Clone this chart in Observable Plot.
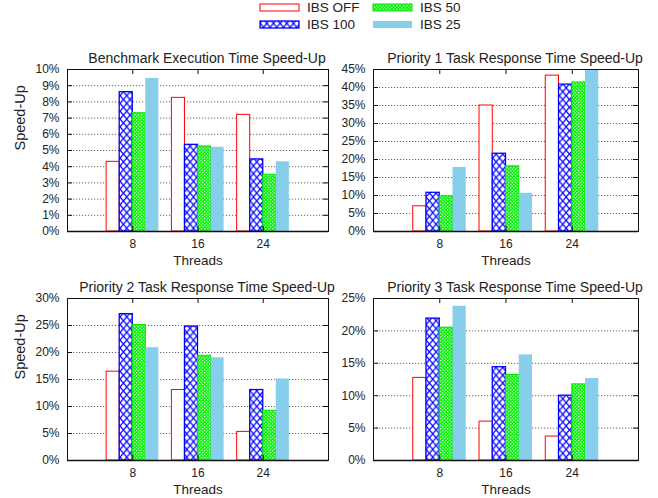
<!DOCTYPE html>
<html><head><meta charset="utf-8">
<script src="https://cdn.jsdelivr.net/npm/d3@7"></script>
<script src="https://cdn.jsdelivr.net/npm/@observablehq/plot@0.6"></script>
<style>
body{margin:0;background:#fff;}
#chart{position:relative;width:658px;height:498px;font-family:"Liberation Sans",Arial,sans-serif;color:#222;overflow:hidden;}
#chart svg{position:absolute;overflow:visible;}
</style></head><body><div id="chart"></div>
<script>
// ---- data ----
const threads = ["8", "16", "24"];
const seriesNames = ["IBS OFF", "IBS 100", "IBS 50", "IBS 25"];
const titles = [
  "Benchmark Execution Time Speed-Up",
  "Priority 1 Task Response Time Speed-Up",
  "Priority 2 Task Response Time Speed-Up",
  "Priority 3 Task Response Time Speed-Up"
];
const yMax = [10, 45, 30, 25];
const yStep = [1, 5, 5, 5];
// rows: threads 8, 16, 24 ; columns: IBS OFF, IBS 100, IBS 50, IBS 25
const benchmarkExec = [[4.3, 8.6, 7.3, 9.45], [8.25, 5.35, 5.25, 5.2], [7.2, 4.45, 3.5, 4.3]];
const priority1 = [[7.0, 10.75, 9.75, 17.8], [35.0, 21.6, 18.1, 10.6], [43.3, 40.8, 41.4, 45.0]];
const priority2 = [[16.45, 27.1, 25.1, 20.9], [13.05, 24.8, 19.4, 19.0], [5.3, 13.05, 9.2, 15.1]];
const priority3 = [[12.75, 21.9, 20.5, 23.8], [6.0, 14.4, 13.2, 16.3], [3.7, 10.0, 11.75, 12.65]];
const panelValues = [benchmarkExec, priority1, priority2, priority3];

// ---- styles ----
const FONT = '"Liberation Sans", Arial, sans-serif';
const fills = ["white", "url(#hatchBlue)", "url(#checkGreen)", "#87ceeb"];
const strokes = ["#ff0000", "#0000ff", "#00e600", "#87ceeb"];
const strokeWidths = [1, 1.3, 1, 0];
const frames = [
  {left: 67, top: 69, w: 261, ylabel: true},
  {left: 373, top: 69, w: 265, ylabel: false},
  {left: 67, top: 298, w: 261, ylabel: true},
  {left: 373, top: 298, w: 265, ylabel: false}
];
const FH = 162, ML = 67, MT = 28, MB = 40, MR = 20;

const chart = document.getElementById("chart");

// pattern defs
const PW = 6.67, PH = 7.8;
const defs = d3.select(chart).append("svg").attr("width", 0).attr("height", 0).style("left", "0px").style("top", "0px").append("defs");
const pb = defs.append("pattern").attr("id", "hatchBlue").attr("patternUnits", "userSpaceOnUse").attr("width", PW).attr("height", PH);
pb.append("rect").attr("width", PW).attr("height", PH).attr("fill", "white");
pb.append("path").attr("d", `M0,0L${PW},${PH}M${PW},0L0,${PH}`).attr("stroke", "#0000ff").attr("stroke-width", 1.2);
const pg = defs.append("pattern").attr("id", "checkGreen").attr("patternUnits", "userSpaceOnUse").attr("width", 3.4).attr("height", 3.4);
pg.append("rect").attr("width", 3.4).attr("height", 3.4).attr("fill", "#00ee00");
pg.append("rect").attr("x", 0).attr("y", 0).attr("width", 1.2).attr("height", 1.2).attr("fill", "white");
pg.append("rect").attr("x", 1.7).attr("y", 1.7).attr("width", 1.2).attr("height", 1.2).attr("fill", "white");

// ---- legend ----
const legendPos = [
  {i: 0, x: 260, y: 4}, {i: 2, x: 373, y: 4},
  {i: 1, x: 260, y: 21}, {i: 3, x: 373, y: 21}
];
const leg = d3.select(chart).append("svg").attr("width", 658).attr("height", 40).style("left", "0px").style("top", "0px");
for (const p of legendPos) {
  leg.append("rect").attr("x", p.x).attr("y", p.y).attr("width", 39).attr("height", 7)
    .attr("fill", fills[p.i]).attr("stroke", strokeWidths[p.i] ? strokes[p.i] : "none").attr("stroke-width", strokeWidths[p.i]);
  leg.append("text").attr("x", p.x + 47).attr("y", p.y + 3.5).attr("dominant-baseline", "central")
    .attr("font-family", FONT).attr("font-size", 13.5).attr("fill", "#222").text(seriesNames[p.i]);
}

// ---- panels ----
frames.forEach((f, p) => {
  const vals = panelValues[p];
  const data = [];
  vals.forEach((row, ci) => row.forEach((v, si) => data.push({ci, si, v, t: threads[ci], s: seriesNames[si]})));
  const ticks = d3.range(0, yMax[p] + yStep[p] / 2, yStep[p]);
  const grid = ticks.filter(t => t > 0 && t < yMax[p]);
  const barMarks = seriesNames.map((s, si) => Plot.rectY(data.filter(d => d.si === si), {
    x1: d => d.ci - 0.4 + 0.2 * d.si,
    x2: d => d.ci - 0.2 + 0.2 * d.si,
    y1: 0, y2: "v",
    fill: fills[si],
    stroke: strokeWidths[si] ? strokes[si] : "none",
    strokeWidth: strokeWidths[si] || 0,
    inset: 0,
    clip: true
  }));
  const marks = [
    Plot.ruleY(grid, {stroke: "#666", strokeDasharray: "1.2,1.8", strokeWidth: 1}),
    ...barMarks,
    Plot.frame({stroke: "#111", strokeWidth: 1}),
    Plot.ruleY([0], {stroke: "#111", strokeWidth: 1.6}),
    Plot.ruleY(ticks, {stroke: "#111", insetRight: f.w - 5}),
    Plot.ruleY(ticks, {stroke: "#111", insetLeft: f.w - 5}),
    Plot.ruleX([0, 1, 2], {stroke: "#111", insetTop: FH - 5}),
    Plot.ruleX([0, 1, 2], {stroke: "#111", insetBottom: FH - 5}),
    Plot.text([titles[p]], {frameAnchor: "top", dy: -11, dx: 9, lineAnchor: "middle", fontSize: 14, fill: "#222"}),
    Plot.text(["Threads"], {frameAnchor: "bottom", dy: 29, lineAnchor: "middle", fontSize: 13.5, fill: "#222"})
  ];
  if (f.ylabel) marks.push(Plot.text(["Speed-Up"], {frameAnchor: "left", dx: -47, rotate: -90, fontSize: 14.5, fill: "#222"}));
  const svg = Plot.plot({
    width: ML + f.w + MR, height: MT + FH + MB,
    marginLeft: ML, marginRight: MR, marginTop: MT, marginBottom: MB,
    x: {domain: [-1, 3], ticks: [0, 1, 2], tickFormat: i => threads[i], tickSize: 0, tickPadding: 8, label: null},
    y: {domain: [0, yMax[p]], ticks, tickFormat: d => d + "%", tickSize: 0, tickPadding: 8, label: null},
    style: {fontSize: "12px", fontFamily: FONT, color: "#222", background: "transparent", overflow: "visible"},
    marks
  });
  svg.style.position = "absolute";
  svg.style.left = (f.left - ML) + "px";
  svg.style.top = (f.top - MT) + "px";
  chart.appendChild(svg);
});
</script></body></html>
